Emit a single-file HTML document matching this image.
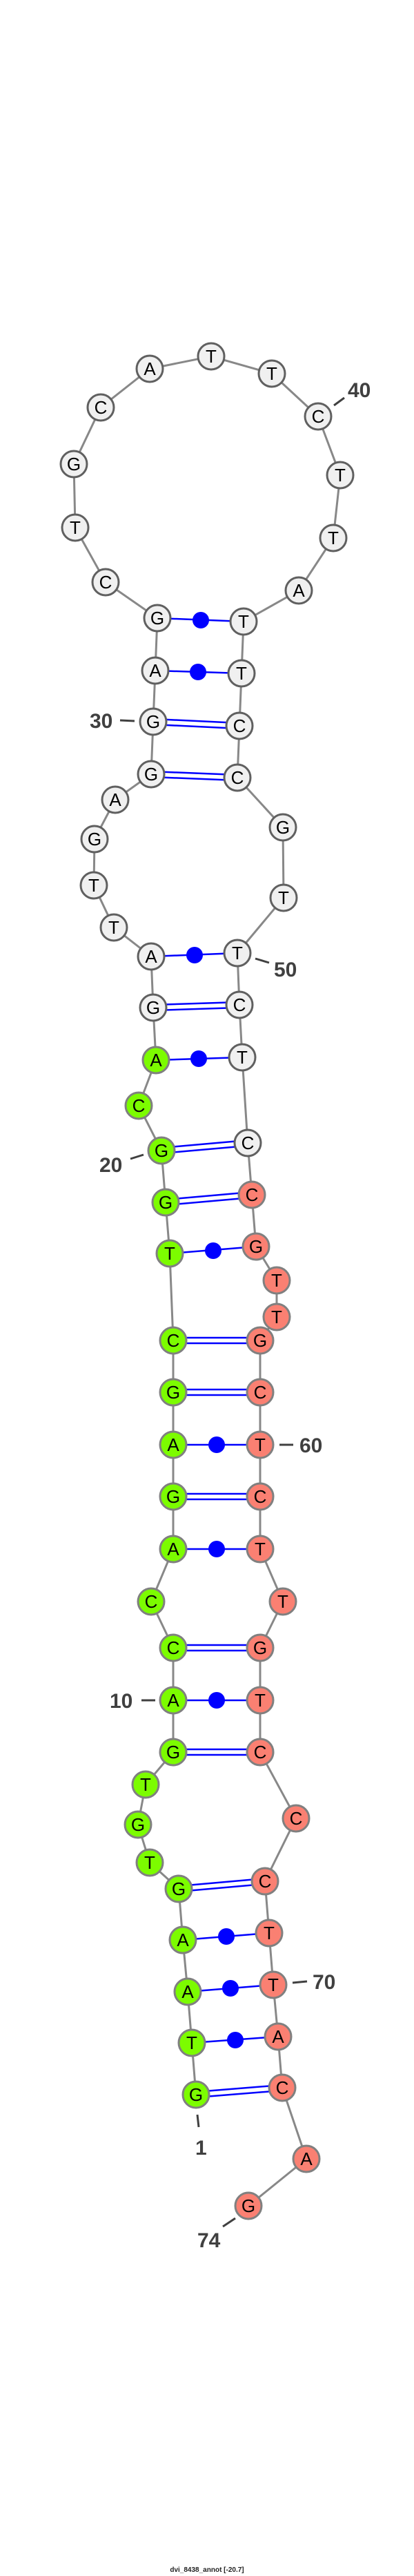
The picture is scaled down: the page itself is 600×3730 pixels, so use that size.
<!DOCTYPE html>
<html><head><meta charset="utf-8"><style>
html,body{margin:0;padding:0;background:#fff;}
svg{display:block}
.n text{font-family:"Liberation Sans",sans-serif;font-size:26px;text-anchor:middle;fill:#000}
.w{fill:#f0f0f0;stroke:#606060;stroke-width:3}
.g{fill:#7cfc00;stroke:#808080;stroke-width:3}
.s{fill:#fa8072;stroke:#808080;stroke-width:3}
.lb{font-family:"Liberation Sans",sans-serif;font-weight:bold;font-size:30px;fill:#404040}
.tk{stroke:#404040;stroke-width:3}
.bp{stroke:#0000ff;stroke-width:2.5}
</style></head><body>
<svg width="600" height="3730" viewBox="0 0 600 3730" xmlns="http://www.w3.org/2000/svg">
<polyline fill="none" stroke="#888" stroke-width="3" points="284,3033 278,2958 272,2884 265,2809 259,2735 217,2697 200,2642 211,2584 251,2537 251,2462 251,2386 219,2319 251,2243 251,2167 251,2092 251,2016 251,1941 246,1815 240,1741 234,1666 201,1601 226,1535 222,1459 219,1385 165,1343 136,1282 137,1215 167,1158 219,1121 222,1045 225,971 228,895 153,843 109,764 107,672 146,590 217,534 306,516 394,541 461,603 493,688 483,779 433,855 353,900 350,975 347,1051 344,1126 410,1198 411,1300 344,1380 347,1455 351,1531 359,1655 365,1730 371,1805 401,1854 401,1907 377,1941 377,2016 377,2092 377,2167 377,2243 410,2319 377,2386 377,2462 377,2537 429,2633 384,2724 390,2799 396,2874 403,2949 409,3023 444,3126 360,3194"/>
<g class="bp">
<!-- double -->
<line x1="284" y1="3029" x2="409" y2="3019"/><line x1="284" y1="3037" x2="409" y2="3027"/>
<line x1="259" y1="2731" x2="384" y2="2720"/><line x1="259" y1="2739" x2="384" y2="2728"/>
<line x1="251" y1="2533" x2="377" y2="2533"/><line x1="251" y1="2541" x2="377" y2="2541"/>
<line x1="251" y1="2382" x2="377" y2="2382"/><line x1="251" y1="2390" x2="377" y2="2390"/>
<line x1="251" y1="2163" x2="377" y2="2163"/><line x1="251" y1="2171" x2="377" y2="2171"/>
<line x1="251" y1="2012" x2="377" y2="2012"/><line x1="251" y1="2020" x2="377" y2="2020"/>
<line x1="251" y1="1937" x2="377" y2="1937"/><line x1="251" y1="1945" x2="377" y2="1945"/>
<line x1="240" y1="1737" x2="365" y2="1726"/><line x1="240" y1="1745" x2="365" y2="1734"/>
<line x1="234" y1="1662" x2="359" y2="1651"/><line x1="234" y1="1670" x2="359" y2="1659"/>
<line x1="222" y1="1455" x2="347" y2="1451"/><line x1="222" y1="1463" x2="347" y2="1459"/>
<line x1="219" y1="1117" x2="344" y2="1122"/><line x1="219" y1="1125" x2="344" y2="1130"/>
<line x1="222" y1="1041" x2="347" y2="1047"/><line x1="222" y1="1049" x2="347" y2="1055"/>
<!-- single -->
<line x1="278" y1="2958" x2="403" y2="2949"/>
<line x1="272" y1="2884" x2="396" y2="2874"/>
<line x1="265" y1="2809" x2="390" y2="2799"/>
<line x1="251" y1="2462" x2="377" y2="2462"/>
<line x1="251" y1="2243" x2="377" y2="2243"/>
<line x1="251" y1="2092" x2="377" y2="2092"/>
<line x1="246" y1="1815" x2="371" y2="1805"/>
<line x1="226" y1="1535" x2="351" y2="1531"/>
<line x1="219" y1="1385" x2="344" y2="1380"/>
<line x1="225" y1="971" x2="350" y2="975"/>
<line x1="228" y1="895" x2="353" y2="900"/>
</g>
<g fill="#0000ff">
<circle cx="341" cy="2954" r="12"/><circle cx="334" cy="2879" r="12"/><circle cx="328" cy="2804" r="12"/>
<circle cx="314" cy="2462" r="12"/><circle cx="314" cy="2243" r="12"/><circle cx="314" cy="2092" r="12"/>
<circle cx="309" cy="1811" r="12"/><circle cx="288" cy="1533" r="12"/><circle cx="282" cy="1383" r="12"/>
<circle cx="287" cy="973" r="12"/><circle cx="291" cy="898" r="12"/>
</g>
<g class="n">
<circle class="g" cx="284" cy="3033" r="19"/><text x="284" y="3042">G</text>
<circle class="g" cx="278" cy="2958" r="19"/><text x="278" y="2967">T</text>
<circle class="g" cx="272" cy="2884" r="19"/><text x="272" y="2893">A</text>
<circle class="g" cx="265" cy="2809" r="19"/><text x="265" y="2818">A</text>
<circle class="g" cx="259" cy="2735" r="19"/><text x="259" y="2744">G</text>
<circle class="g" cx="217" cy="2697" r="19"/><text x="217" y="2706">T</text>
<circle class="g" cx="200" cy="2642" r="19"/><text x="200" y="2651">G</text>
<circle class="g" cx="211" cy="2584" r="19"/><text x="211" y="2593">T</text>
<circle class="g" cx="251" cy="2537" r="19"/><text x="251" y="2546">G</text>
<circle class="g" cx="251" cy="2462" r="19"/><text x="251" y="2471">A</text>
<circle class="g" cx="251" cy="2386" r="19"/><text x="251" y="2395">C</text>
<circle class="g" cx="219" cy="2319" r="19"/><text x="219" y="2328">C</text>
<circle class="g" cx="251" cy="2243" r="19"/><text x="251" y="2252">A</text>
<circle class="g" cx="251" cy="2167" r="19"/><text x="251" y="2176">G</text>
<circle class="g" cx="251" cy="2092" r="19"/><text x="251" y="2101">A</text>
<circle class="g" cx="251" cy="2016" r="19"/><text x="251" y="2025">G</text>
<circle class="g" cx="251" cy="1941" r="19"/><text x="251" y="1950">C</text>
<circle class="g" cx="246" cy="1815" r="19"/><text x="246" y="1824">T</text>
<circle class="g" cx="240" cy="1741" r="19"/><text x="240" y="1750">G</text>
<circle class="g" cx="234" cy="1666" r="19"/><text x="234" y="1675">G</text>
<circle class="g" cx="201" cy="1601" r="19"/><text x="201" y="1610">C</text>
<circle class="g" cx="226" cy="1535" r="19"/><text x="226" y="1544">A</text>
<circle class="w" cx="222" cy="1459" r="19"/><text x="222" y="1468">G</text>
<circle class="w" cx="219" cy="1385" r="19"/><text x="219" y="1394">A</text>
<circle class="w" cx="165" cy="1343" r="19"/><text x="165" y="1352">T</text>
<circle class="w" cx="136" cy="1282" r="19"/><text x="136" y="1291">T</text>
<circle class="w" cx="137" cy="1215" r="19"/><text x="137" y="1224">G</text>
<circle class="w" cx="167" cy="1158" r="19"/><text x="167" y="1167">A</text>
<circle class="w" cx="219" cy="1121" r="19"/><text x="219" y="1130">G</text>
<circle class="w" cx="222" cy="1045" r="19"/><text x="222" y="1054">G</text>
<circle class="w" cx="225" cy="971" r="19"/><text x="225" y="980">A</text>
<circle class="w" cx="228" cy="895" r="19"/><text x="228" y="904">G</text>
<circle class="w" cx="153" cy="843" r="19"/><text x="153" y="852">C</text>
<circle class="w" cx="109" cy="764" r="19"/><text x="109" y="773">T</text>
<circle class="w" cx="107" cy="672" r="19"/><text x="107" y="681">G</text>
<circle class="w" cx="146" cy="590" r="19"/><text x="146" y="599">C</text>
<circle class="w" cx="217" cy="534" r="19"/><text x="217" y="543">A</text>
<circle class="w" cx="306" cy="516" r="19"/><text x="306" y="525">T</text>
<circle class="w" cx="394" cy="541" r="19"/><text x="394" y="550">T</text>
<circle class="w" cx="461" cy="603" r="19"/><text x="461" y="612">C</text>
<circle class="w" cx="493" cy="688" r="19"/><text x="493" y="697">T</text>
<circle class="w" cx="483" cy="779" r="19"/><text x="483" y="788">T</text>
<circle class="w" cx="433" cy="855" r="19"/><text x="433" y="864">A</text>
<circle class="w" cx="353" cy="900" r="19"/><text x="353" y="909">T</text>
<circle class="w" cx="350" cy="975" r="19"/><text x="350" y="984">T</text>
<circle class="w" cx="347" cy="1051" r="19"/><text x="347" y="1060">C</text>
<circle class="w" cx="344" cy="1126" r="19"/><text x="344" y="1135">C</text>
<circle class="w" cx="410" cy="1198" r="19"/><text x="410" y="1207">G</text>
<circle class="w" cx="411" cy="1300" r="19"/><text x="411" y="1309">T</text>
<circle class="w" cx="344" cy="1380" r="19"/><text x="344" y="1389">T</text>
<circle class="w" cx="347" cy="1455" r="19"/><text x="347" y="1464">C</text>
<circle class="w" cx="351" cy="1531" r="19"/><text x="351" y="1540">T</text>
<circle class="w" cx="359" cy="1655" r="19"/><text x="359" y="1664">C</text>
<circle class="s" cx="365" cy="1730" r="19"/><text x="365" y="1739">C</text>
<circle class="s" cx="371" cy="1805" r="19"/><text x="371" y="1814">G</text>
<circle class="s" cx="401" cy="1854" r="19"/><text x="401" y="1863">T</text>
<circle class="s" cx="401" cy="1907" r="19"/><text x="401" y="1916">T</text>
<circle class="s" cx="377" cy="1941" r="19"/><text x="377" y="1950">G</text>
<circle class="s" cx="377" cy="2016" r="19"/><text x="377" y="2025">C</text>
<circle class="s" cx="377" cy="2092" r="19"/><text x="377" y="2101">T</text>
<circle class="s" cx="377" cy="2167" r="19"/><text x="377" y="2176">C</text>
<circle class="s" cx="377" cy="2243" r="19"/><text x="377" y="2252">T</text>
<circle class="s" cx="410" cy="2319" r="19"/><text x="410" y="2328">T</text>
<circle class="s" cx="377" cy="2386" r="19"/><text x="377" y="2395">G</text>
<circle class="s" cx="377" cy="2462" r="19"/><text x="377" y="2471">T</text>
<circle class="s" cx="377" cy="2537" r="19"/><text x="377" y="2546">C</text>
<circle class="s" cx="429" cy="2633" r="19"/><text x="429" y="2642">C</text>
<circle class="s" cx="384" cy="2724" r="19"/><text x="384" y="2733">C</text>
<circle class="s" cx="390" cy="2799" r="19"/><text x="390" y="2808">T</text>
<circle class="s" cx="396" cy="2874" r="19"/><text x="396" y="2883">T</text>
<circle class="s" cx="403" cy="2949" r="19"/><text x="403" y="2958">A</text>
<circle class="s" cx="409" cy="3023" r="19"/><text x="409" y="3032">C</text>
<circle class="s" cx="444" cy="3126" r="19"/><text x="444" y="3135">A</text>
<circle class="s" cx="360" cy="3194" r="19"/><text x="360" y="3203">G</text>
</g>
<g class="tk">
<line x1="484" y1="587" x2="499" y2="576"/>
<line x1="174" y1="1043" x2="195" y2="1044"/>
<line x1="370" y1="1388" x2="390" y2="1394"/>
<line x1="189" y1="1678" x2="208" y2="1672"/>
<line x1="405" y1="2092" x2="425" y2="2092"/>
<line x1="205" y1="2462" x2="225" y2="2462"/>
<line x1="424" y1="2871" x2="445" y2="2869"/>
<line x1="286" y1="3062" x2="288" y2="3080"/>
<line x1="323" y1="3224" x2="341" y2="3212"/>
</g>
<g class="lb">
<text x="504" y="575">40</text>
<text x="130" y="1054">30</text>
<text x="397" y="1414">50</text>
<text x="144" y="1697">20</text>
<text x="434" y="2103">60</text>
<text x="159" y="2473">10</text>
<text x="453" y="2880">70</text>
<text x="283" y="3120">1</text>
<text x="286" y="3254">74</text>
</g>
<text x="300" y="3724" text-anchor="middle" font-family="Liberation Sans, sans-serif" font-weight="bold" font-size="10" fill="#222">dvi_8438_annot [-20.7]</text>
</svg>
</body></html>
